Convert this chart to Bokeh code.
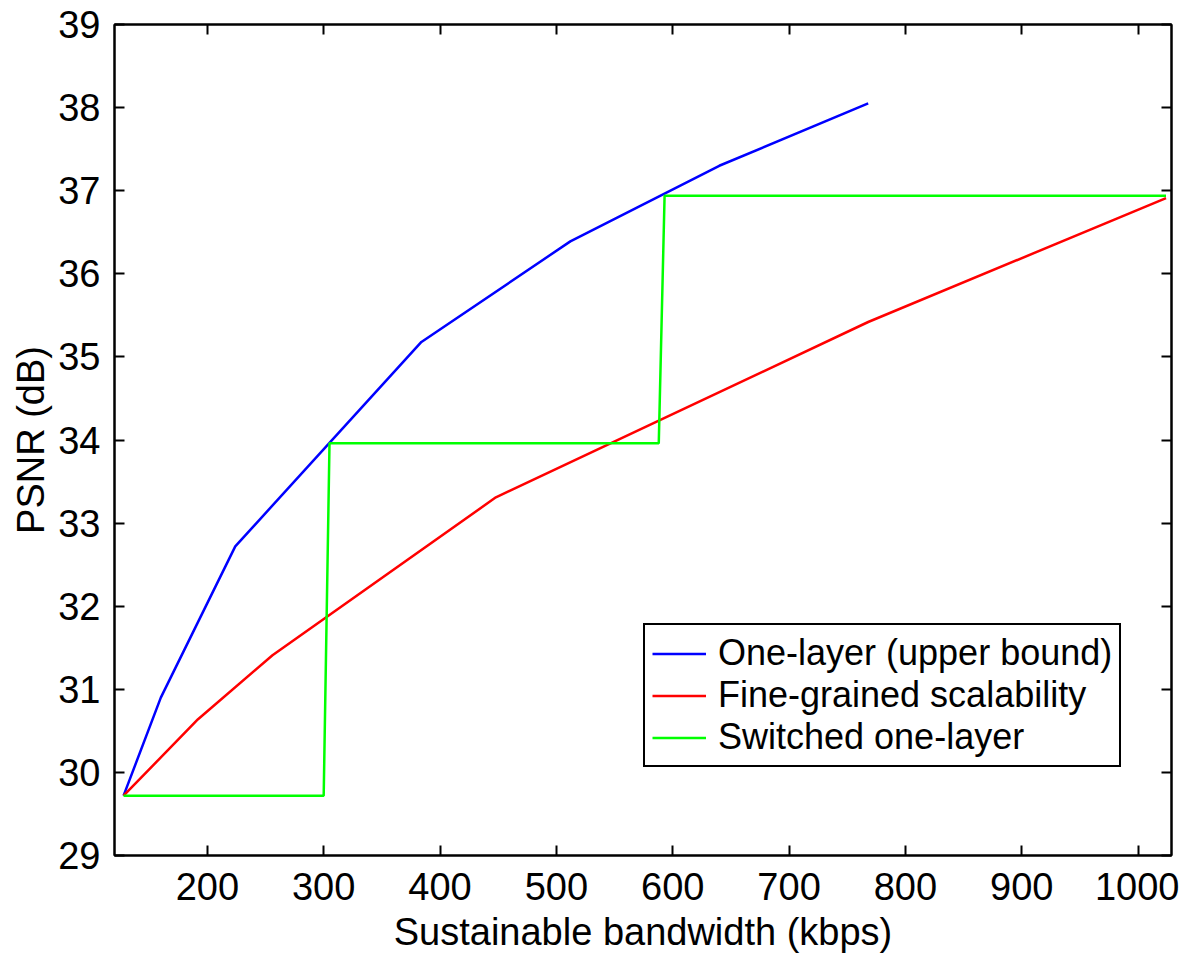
from bokeh.plotting import figure
from bokeh.models import Range1d, LinearAxis, FixedTicker, Legend, LegendItem, CustomJSTickFormatter
from bokeh.embed import file_html
from bokeh.resources import INLINE

# ---- data ----
one_layer_x = [128, 160, 224, 384, 512, 640, 768]
one_layer_y = [29.72, 30.90, 32.72, 35.18, 36.39, 37.30, 38.05]

fgs_x = [128, 192, 256, 448, 768, 1024]
fgs_y = [29.72, 30.64, 31.41, 33.31, 35.42, 36.91]

switched_x = [128, 300, 305, 588, 593, 1024]
switched_y = [29.72, 29.72, 33.96, 33.96, 36.94, 36.94]

x_ticks = [200, 300, 400, 500, 600, 700, 800, 900, 1000]
y_ticks = [29, 30, 31, 32, 33, 34, 35, 36, 37, 38, 39]

series_names = ["One-layer (upper bound)", "Fine-grained scalability", "Switched one-layer"]
FONT = "Liberation Sans"

p = figure(width=1179, height=955, output_backend="svg", toolbar_location=None,
           x_range=Range1d(120.2, 1028.7), y_range=Range1d(29, 39),
           min_border_left=114, min_border_right=8, min_border_top=24, min_border_bottom=98)
p.grid.visible = False
p.outline_line_color = "black"
p.outline_line_width = 2
p.outline_line_alpha = 1
p.background_fill_color = "white"
p.border_fill_color = "white"

r1 = p.line(one_layer_x, one_layer_y, line_color="#0000ff", line_width=2.5)
r2 = p.line(fgs_x, fgs_y, line_color="#ff0000", line_width=2.5)
r3 = p.line(switched_x, switched_y, line_color="#00ff00", line_width=2.5)

def style_axis(ax, ticks, show_labels):
    ax.ticker = FixedTicker(ticks=ticks)
    ax.major_tick_in = 10
    ax.major_tick_out = 0
    ax.minor_tick_in = 0
    ax.minor_tick_out = 0
    ax.axis_line_color = "black"
    ax.axis_line_width = 2
    ax.major_tick_line_width = 2
    ax.major_tick_line_color = "black"
    if show_labels:
        ax.major_label_text_font = FONT
        ax.major_label_text_font_size = "38px"
        ax.major_label_text_color = "black"
        ax.axis_label_text_font = FONT
        ax.axis_label_text_font_size = "38px"
        ax.axis_label_text_font_style = "normal"
        ax.axis_label_text_color = "black"
    else:
        ax.formatter = CustomJSTickFormatter(code="return ''")
        ax.major_label_standoff = 0

style_axis(p.xaxis[0], x_ticks, True)
style_axis(p.yaxis[0], y_ticks, True)
p.xaxis[0].axis_label = "Sustainable bandwidth (kbps)"
p.yaxis[0].axis_label = "PSNR (dB)"
p.xaxis[0].major_label_standoff = 17
p.yaxis[0].major_label_standoff = 14
p.xaxis[0].axis_label_standoff = 8
p.yaxis[0].axis_label_standoff = 3

top_ax = LinearAxis()
right_ax = LinearAxis()
style_axis(top_ax, x_ticks, False)
style_axis(right_ax, y_ticks, False)
p.add_layout(top_ax, "above")
p.add_layout(right_ax, "right")

legend = Legend(items=[LegendItem(label=series_names[0], renderers=[r1]),
                       LegendItem(label=series_names[1], renderers=[r2]),
                       LegendItem(label=series_names[2], renderers=[r3])],
                location=(529, 88))
legend.label_text_font = FONT
legend.label_text_font_size = "36px"
legend.label_text_color = "black"
legend.label_height = 33
legend.glyph_height = 33
legend.glyph_width = 54
legend.label_standoff = 12
legend.spacing = 0
legend.padding = 7
legend.margin = 0
legend.border_line_color = "black"
legend.border_line_width = 2
legend.border_line_alpha = 1
legend.background_fill_color = "white"
legend.background_fill_alpha = 1
p.add_layout(legend, "center")

open("out.html", "w").write(file_html(p, INLINE))
